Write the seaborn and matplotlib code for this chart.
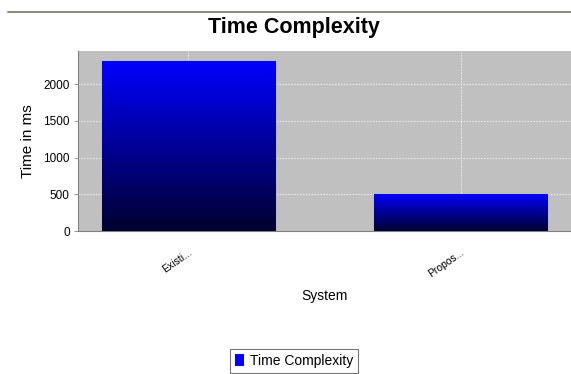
import numpy as np
import matplotlib
matplotlib.use("Agg")
import matplotlib.pyplot as plt
from matplotlib.lines import Line2D
from matplotlib.patches import Patch
import seaborn as sns

# data
systems = ["Existi...", "Propos..."]
times_ms = [2320, 505]
series_name = "Time Complexity"

sns.set_style("white", rc={"text.color": "black", "axes.labelcolor": "black",
                           "xtick.color": "black", "ytick.color": "black"})
plt.rcParams["font.family"] = ["Liberation Sans", "DejaVu Sans"]

fig = plt.figure(figsize=(5.71, 3.74), dpi=100)
ax = fig.add_axes([78 / 571, 1 - 231 / 374, 1 - 78 / 571, (231 - 51) / 374])
ax.set_facecolor("#c0c0c0")

sns.barplot(x=systems, y=times_ms, ax=ax, color="#0000ff", width=0.636,
            edgecolor="#8080b0", linewidth=0.8, zorder=3)

# vertical gradient (blue -> navy) clipped to every bar
grad = np.linspace(1, 0, 256).reshape(-1, 1)
cmap = matplotlib.colors.LinearSegmentedColormap.from_list("bg", ["#000030", "#0000ff"])
for p in ax.patches:
    x0, y0 = p.get_x(), p.get_y()
    im = ax.imshow(grad, cmap=cmap, aspect="auto", zorder=3.5,
                   extent=[x0, x0 + p.get_width(), y0, y0 + p.get_height()])
    im.set_clip_path(p)

ax.set_xlim(-0.406, 1.406)
ax.set_ylim(0, 2450)
ax.set_yticks([0, 500, 1000, 1500, 2000])
ax.grid(True, color="#f0f0f0", linestyle=(0, (1.5, 1.5)), linewidth=0.7, zorder=0)
ax.set_axisbelow(True)
for s in ["top", "right"]:
    ax.spines[s].set_visible(False)
ax.spines["left"].set_color("#808080")
ax.spines["bottom"].set_color("#808080")
ax.tick_params(axis="y", left=True, length=3, width=0.6, color="#808080",
               labelsize=8.5, pad=3)
ax.tick_params(axis="x", bottom=False, labelsize=7.5, pad=8)
for lbl in ax.get_xticklabels():
    lbl.set_rotation(35)
    lbl.set_ha("right")
    lbl.set_rotation_mode("anchor")

ax.set_xlabel("System", fontsize=10, labelpad=7)
ax.set_ylabel("Time in ms", fontsize=11, labelpad=6)
fig.text(294 / 571, 1 - 33 / 374, "Time Complexity",
         ha="center", va="baseline", fontsize=15.5, fontweight="bold")

# thin gray rule along the top
fig.add_artist(Line2D([8 / 571, 1], [1 - 12 / 374] * 2, color="#8c8c84", linewidth=1.5))

handles = [Patch(facecolor="#0000ff", edgecolor="none", label=series_name)]
leg = fig.legend(handles=handles, loc="center", bbox_to_anchor=(294 / 571, 1 - 361 / 374),
                 fontsize=10, frameon=True, fancybox=False, handlelength=0.7,
                 handleheight=0.9, handletextpad=0.4, borderpad=0.35)
leg.get_frame().set_edgecolor("#555555")
leg.get_frame().set_linewidth(0.8)

fig.savefig("out.png", dpi=100)
